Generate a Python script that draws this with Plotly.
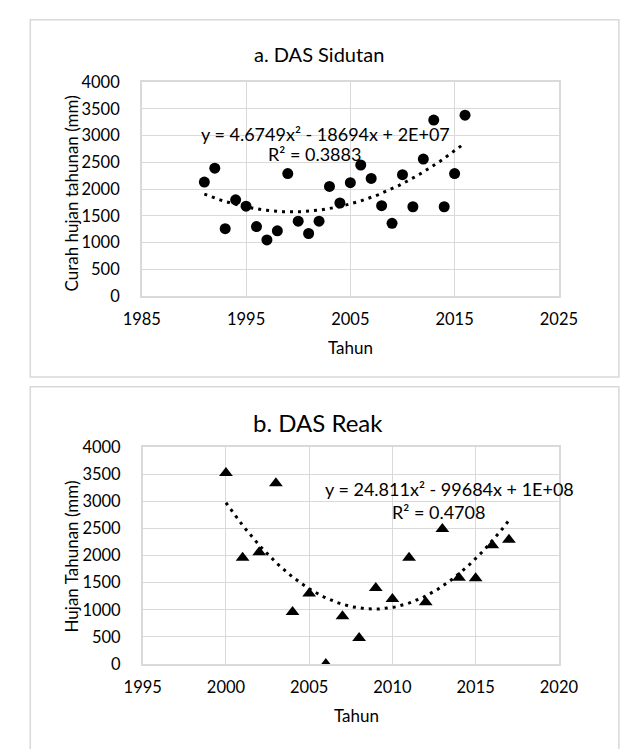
import numpy as np
import plotly.graph_objects as go

# ---- data ----
years_a = list(range(1991, 2017))
rain_a = [2130, 2390, 1260, 1800, 1680, 1300, 1050, 1220, 2290, 1400,
          1170, 1400, 2050, 1740, 2120, 2450, 2200, 1690, 1360, 2270,
          1670, 2560, 3290, 1670, 2290, 3380]

years_b = list(range(2000, 2018))
rain_b = [3520, 1960, 2060, 3330, 960, 1300, 0, 880, 480, 1400,
          1200, 1960, 1140, 2490, 1590, 1580, 2190, 2290]

title_a = "a. DAS Sidutan"
title_b = "b. DAS Reak"
ytitle_a = "Curah hujan tahunan (mm)"
ytitle_b = "Hujan Tahunan (mm)"
xtitle = "Tahun"
eq_a = "y = 4.6749x² - 18694x + 2E+07"
r2_a = "R² = 0.3883"
eq_b = "y = 24.811x² - 99684x + 1E+08"
r2_b = "R² = 0.4708"

W, H = 622, 749
FONT = "Lato, Carlito, Calibri, sans-serif"
GRID = "#d9d9d9"
TICK = 16.5
AXT = 17
EQ = 18


def px_x(x):
    return x / W


def px_y(y):
    return 1 - y / H


def trend(xs, ys):
    xs = np.asarray(xs, float)
    ys = np.asarray(ys, float)
    m = xs.mean()
    c = np.polyfit(xs - m, ys, 2)
    xx = np.linspace(xs.min(), xs.max(), 200)
    return xx, np.polyval(c, xx - m)


fig = go.Figure()

# chart a
tx, ty = trend(years_a, rain_a)
fig.add_trace(go.Scatter(x=tx, y=ty, mode="lines", xaxis="x", yaxis="y",
                         line=dict(color="black", width=3, dash="3px,5px"),
                         hoverinfo="skip", showlegend=False))
fig.add_trace(go.Scatter(x=years_a, y=rain_a, mode="markers", xaxis="x", yaxis="y",
                         marker=dict(symbol="circle", size=11, color="black"),
                         showlegend=False))

# chart b
tx, ty = trend(years_b, rain_b)
fig.add_trace(go.Scatter(x=tx, y=ty, mode="lines", xaxis="x2", yaxis="y2",
                         line=dict(color="black", width=3, dash="3px,5px"),
                         hoverinfo="skip", showlegend=False))
fig.add_trace(go.Scatter(x=years_b, y=rain_b, mode="markers", xaxis="x2", yaxis="y2",
                         marker=dict(symbol="triangle-up", size=12, color="black"),
                         showlegend=False))

ax_common = dict(showgrid=True, gridcolor=GRID, gridwidth=1,
                 showline=True, linecolor=GRID, linewidth=1.5, mirror=True,
                 zeroline=False, ticks="", tickfont=dict(family=FONT, size=TICK, color="black"))

fig.update_layout(
    width=W, height=H,
    margin=dict(l=0, r=0, t=0, b=0),
    paper_bgcolor="white", plot_bgcolor="white",
    font=dict(family=FONT, color="black"),
    xaxis=dict(ax_common, domain=[px_x(131), px_x(576)], anchor="y",
               range=[1985, 2025], dtick=10, tick0=1985, ticklabelstandoff=7),
    yaxis=dict(ax_common, domain=[px_y(294), px_y(74)], anchor="x",
               range=[0, 4000], dtick=500, ticklabelstandoff=17),
    xaxis2=dict(ax_common, domain=[px_x(132), px_x(576)], anchor="y2",
                range=[1995, 2020], dtick=5, tick0=1995, ticklabelstandoff=7),
    yaxis2=dict(ax_common, domain=[px_y(672), px_y(449)], anchor="x2",
                range=[0, 4000], dtick=500, ticklabelstandoff=17),
)

shapes = [
    dict(type="rect", xref="paper", yref="paper",
         x0=px_x(12), x1=px_x(640), y0=px_y(377), y1=px_y(10),
         line=dict(color=GRID, width=1.5)),
    dict(type="rect", xref="paper", yref="paper",
         x0=px_x(12), x1=px_x(640), y0=px_y(770), y1=px_y(387),
         line=dict(color=GRID, width=1.5)),
]
fig.update_layout(shapes=shapes)

ann = []


def pa(text, x, y, size, angle=0):
    ann.append(dict(text=text, x=px_x(x), y=px_y(y), xref="paper", yref="paper",
                    showarrow=False, xanchor="center", yanchor="middle",
                    textangle=angle, font=dict(family=FONT, size=size, color="black")))


pa(title_a, 320, 45, 20)
pa(title_b, 319, 424, 24)
pa(xtitle, 354, 347, AXT)
pa(xtitle, 360, 725, AXT)
pa(ytitle_a, 56, 188, AXT, -90)
pa(ytitle_b, 56, 561, AXT, -90)


def da(text, x, y, xr, yr):
    ann.append(dict(text=text, x=x, y=y, xref=xr, yref=yr, showarrow=False,
                    xanchor="left", yanchor="middle",
                    font=dict(family=FONT, size=EQ, color="black")))


da(eq_a, 1990.5, 3030, "x", "y")
da(r2_a, 1996.9, 2660, "x", "y")
da(eq_b, 2005.85, 3220, "x2", "y2")
da(r2_b, 2009.85, 2810, "x2", "y2")
fig.update_layout(annotations=ann)

fig.write_html("out.html")
